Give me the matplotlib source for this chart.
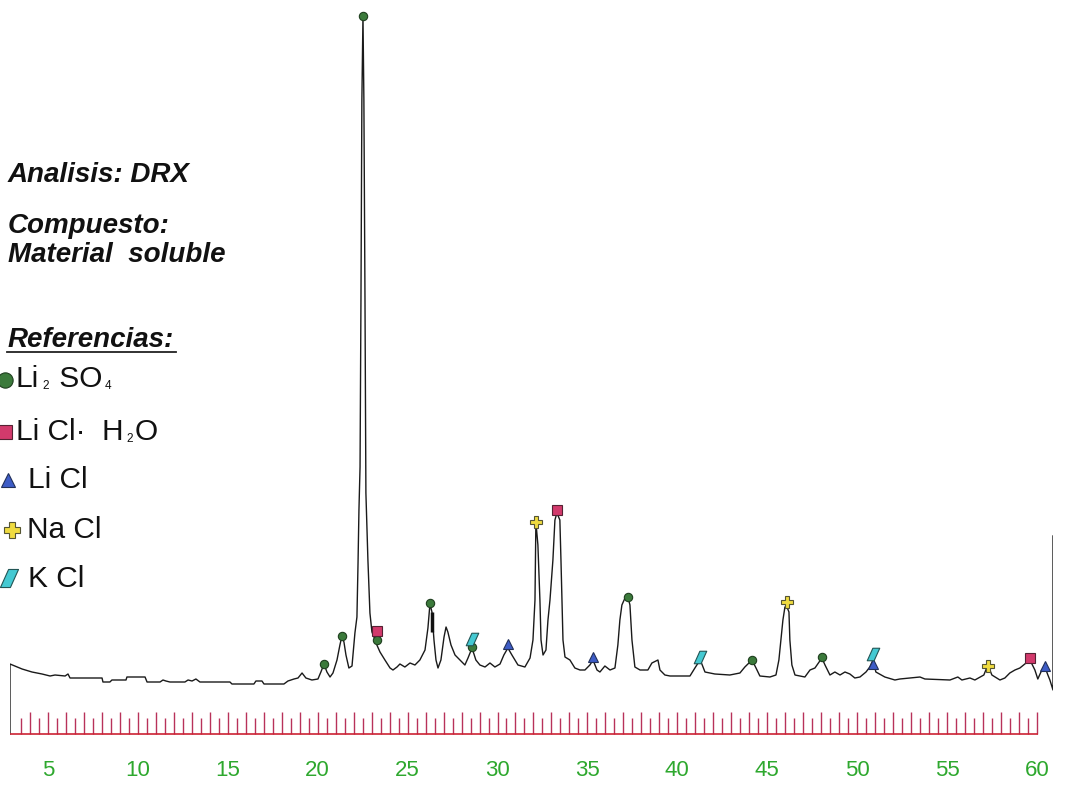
import numpy as np
import matplotlib
matplotlib.use("Agg")
import matplotlib.pyplot as plt
from matplotlib.path import Path

plt.rcParams['font.family'] = ['Liberation Sans', 'DejaVu Sans']

# ---------------- data (2theta in degrees, intensity in a.u.) ----------------
two_theta = [
    3.00, 3.00, 3.27, 3.66, 4.20, 4.75, 5.19, 5.46, 6.01, 6.17,
    6.28, 8.03, 8.08, 8.46, 8.57, 9.34, 9.39, 10.38, 10.49, 11.20,
    11.36, 11.52, 11.74, 12.56, 12.73, 12.95, 13.16, 13.38, 15.02, 15.13,
    16.33, 16.44, 16.77, 16.88, 17.97, 18.19, 18.52, 18.74, 18.96, 19.17,
    19.50, 19.83, 19.99, 20.16, 20.32, 20.49, 20.65, 20.87, 21.03, 21.14,
    21.25, 21.36, 21.52, 21.69, 21.85, 21.96, 22.02, 22.07, 22.13, 22.18,
    22.23, 22.29, 22.34, 22.40, 22.45, 22.56, 22.67, 22.78, 22.89, 23.05,
    23.22, 23.49, 23.77, 23.93, 24.15, 24.31, 24.58, 24.86, 25.13, 25.40,
    25.68, 25.84, 25.95, 26.06, 26.17, 26.28, 26.39, 26.55, 26.72, 26.83,
    26.93, 27.10, 27.32, 27.59, 27.86, 28.03, 28.25, 28.46, 28.68, 28.96,
    29.23, 29.50, 29.78, 29.99, 30.21, 30.43, 30.76, 31.14, 31.42, 31.58,
    31.69, 31.74, 31.85, 31.96, 32.02, 32.13, 32.29, 32.40, 32.51, 32.67,
    32.78, 32.89, 33.05, 33.11, 33.22, 33.33, 33.60, 33.87, 34.15, 34.42,
    34.69, 34.86, 35.08, 35.24, 35.51, 35.79, 36.06, 36.22, 36.33, 36.44,
    36.61, 36.77, 36.88, 36.99, 37.15, 37.43, 37.86, 38.08, 38.41, 38.52,
    38.79, 39.07, 40.16, 40.43, 40.71, 40.81, 40.98, 41.52, 42.34, 42.89,
    43.16, 43.55, 43.77, 43.98, 44.53, 44.86, 45.02, 45.13, 45.24, 45.35,
    45.46, 45.57, 45.62, 45.73, 45.90, 46.44, 46.72, 46.99, 47.37, 47.54,
    47.81, 48.08, 48.36, 48.63, 48.90, 49.17, 49.45, 49.78, 49.99, 50.16,
    50.32, 50.81, 51.36, 51.63, 52.73, 53.00, 54.37, 54.80, 55.02, 55.46,
    55.73, 56.22, 56.44, 56.66, 57.10, 57.37, 57.64, 57.92, 58.19, 58.46,
    58.74, 59.01, 59.17, 59.39, 59.56, 59.72, 59.83, 60.00, 60.00,
]
intensity = [
    -26, 44, 42, 39, 36, 34, 32, 33, 32, 34,
    30, 30, 26, 26, 28, 28, 31, 31, 26, 26,
    28, 27, 26, 26, 28, 27, 29, 26, 26, 24,
    24, 27, 27, 24, 24, 27, 29, 30, 35, 30,
    28, 29, 36, 44, 36, 31, 35, 48, 63, 72,
    66, 53, 40, 42, 75, 91, 145, 198, 241, 408,
    608, 692, 608, 408, 215, 148, 95, 76, 71, 63,
    56, 48, 40, 38, 41, 44, 41, 45, 43, 48,
    58, 80, 104, 96, 68, 48, 40, 48, 71, 81,
    76, 63, 53, 48, 43, 50, 60, 48, 43, 41,
    45, 41, 44, 53, 60, 53, 43, 41, 50, 68,
    108, 186, 163, 108, 68, 53, 58, 88, 108, 148,
    188, 195, 188, 148, 68, 51, 48, 40, 38, 38,
    43, 48, 38, 36, 42, 38, 40, 63, 88, 103,
    110, 111, 103, 68, 41, 38, 38, 45, 48, 38,
    33, 32, 32, 40, 48, 44, 36, 34, 33, 35,
    41, 48, 40, 32, 31, 33, 48, 68, 88, 101,
    101, 96, 68, 43, 33, 31, 38, 40, 50, 43,
    33, 36, 33, 36, 34, 30, 31, 36, 41, 48,
    36, 31, 28, 29, 31, 29, 28, 31, 28, 30,
    28, 33, 43, 33, 28, 30, 35, 38, 40, 44,
    48, 38, 29, 38, 41, 33, 28, 18, 172,
]

# phase identification markers (2theta, intensity)
li2so4_tt = [20.16, 21.14, 22.29, 23.05, 25.95, 28.25, 36.77, 43.55, 47.37]
li2so4_i = [44, 72, 692, 68, 105, 61, 111, 48, 51]
liclh2o_tt = [23.05, 32.89, 58.74]
liclh2o_i = [77, 198, 50]
licl_tt = [30.21, 34.86, 50.16, 59.56]
licl_i = [64, 51, 44, 42]
nacl_tt = [31.74, 45.46, 56.44]
nacl_i = [186, 106, 42]
kcl_tt = [28.25, 40.71, 50.16]
kcl_i = [69, 51, 54]

# small dark bar on the 26 deg peak
bar_tt = 26.06
bar_lo, bar_hi = 76, 96

tick_labels = [5, 10, 15, 20, 25, 30, 35, 40, 45, 50, 55, 60]

# legend names as (text, is_subscript) pieces
legend_names = [
    [("Li", False), ("2", True), (" SO", False), ("4", True)],
    [("Li Cl\u00b7  H", False), ("2", True), ("O", False)],
    [("Li Cl", False)],
    [("Na Cl", False)],
    [("K Cl", False)],
]

# ---------------- styles ----------------
W, H = 1079, 786
C_GREEN = '#3b7a3b'
C_RED = '#d23a6c'
C_BLUE = '#3d5cc6'
C_YEL = '#efdb40'
C_CYAN = '#44c9d2'

para = Path([(-0.5, -0.5), (0.05, -0.5), (0.5, 0.5), (-0.05, 0.5), (-0.5, -0.5)],
            [Path.MOVETO, Path.LINETO, Path.LINETO, Path.LINETO, Path.CLOSEPOLY])

styles = [
    dict(marker='o', mfc=C_GREEN, ms=6, mec='#1f3f1f'),
    dict(marker='s', mfc=C_RED, ms=7, mec='#552233'),
    dict(marker='^', mfc=C_BLUE, ms=7, mec='#22305a'),
    dict(marker='P', mfc=C_YEL, ms=8.5, mec='#555533'),
    dict(marker=para, mfc=C_CYAN, ms=9, mec='#225555'),
]

fig = plt.figure(figsize=(W / 100, H / 100), dpi=100)

# main data axes
x0, x1 = 10, 1053
ax = fig.add_axes([x0 / W, 0, (x1 - x0) / W, 1])
ax.set_xlim(3, 60)
ax.set_ylim(-78, 708)
ax.axis('off')
ax.plot(two_theta, intensity, color='#1a1a1a', lw=1.0, zorder=2)
ax.vlines(bar_tt, bar_lo, bar_hi, color='#111111', lw=2.5, zorder=2)

for (tt, ii), st in zip([(li2so4_tt, li2so4_i), (liclh2o_tt, liclh2o_i),
                         (licl_tt, licl_i), (nacl_tt, nacl_i), (kcl_tt, kcl_i)], styles):
    ax.plot(tt, ii, ls='none', marker=st['marker'], mfc=st['mfc'], mec=st['mec'],
            ms=st['ms'], mew=0.8, zorder=3, clip_on=False)

# ruler axis (scale of the printed ruler)
v_left = 5 + (x0 - 48) / 17.98
v_right = 5 + (x1 - 48) / 17.98
rax = fig.add_axes([x0 / W, (H - 734) / H, (x1 - x0) / W, 30 / H])
rax.set_xlim(v_left, v_right)
rax.set_ylim(0, 30)
rax.patch.set_alpha(0)
for s in rax.spines.values():
    s.set_visible(False)
rax.set_yticks([])
rt = np.arange(3.5, 60.01, 0.5)
long_t = rt[np.isclose(rt % 1, 0)]
short_t = rt[~np.isclose(rt % 1, 0)]
rax.vlines(long_t, 0, 22, color='#b8325a', lw=1.0, clip_on=False)
rax.vlines(short_t, 0, 16, color='#b8325a', lw=1.0, clip_on=False)
rax.hlines(0, v_left, 60.05, color='#cc2233', lw=1.2, clip_on=False)
rax.set_xticks(tick_labels)
rax.set_xticklabels([str(t) for t in tick_labels])
rax.tick_params(axis='x', length=0, pad=19, labelsize=16, labelcolor='#2ea82e')

# overlay for annotation text & legend (pixel coordinates)
oax = fig.add_axes([0, 0, 1, 1])
oax.set_xlim(0, W)
oax.set_ylim(H, 0)
oax.axis('off')
oax.patch.set_alpha(0)

tkw = dict(fontsize=20, fontweight='bold', style='italic', color='#111111', va='baseline')
oax.text(8, 182, "Analisis: DRX", **tkw)
oax.text(8, 233, "Compuesto:", **tkw)
oax.text(8, 262, "Material  soluble", **tkw)
oax.text(8, 347, "Referencias:", **tkw)
oax.plot([7, 176], [352, 352], color='#222222', lw=1.3)

renderer = fig.canvas.get_renderer()
leg_y = [387, 440, 488, 538, 587]
leg_x = [16, 16, 28, 27, 28]
mk_xy = [(5, 380), (5, 432), (8, 480), (12, 530), (9, 578)]
mk_ms = [11, 10, 10, 12, 13]
for pieces, y, x, (mx, my), ms, st in zip(legend_names, leg_y, leg_x, mk_xy, mk_ms, styles):
    oax.plot([mx], [my], ls='none', marker=st['marker'], mfc=st['mfc'], mec=st['mec'],
             ms=ms, mew=0.8, clip_on=False)
    cx = x
    for txt, sub in pieces:
        if sub:
            t = oax.text(cx + 3, y + 2, txt, fontsize=8.5, color='#111111', va='baseline')
        else:
            t = oax.text(cx, y, txt, fontsize=21.5, color='#111111', va='baseline')
        bb = t.get_window_extent(renderer=renderer)
        cx = bb.x1 + (2 if sub else 0)

fig.savefig('out.png', dpi=100)
